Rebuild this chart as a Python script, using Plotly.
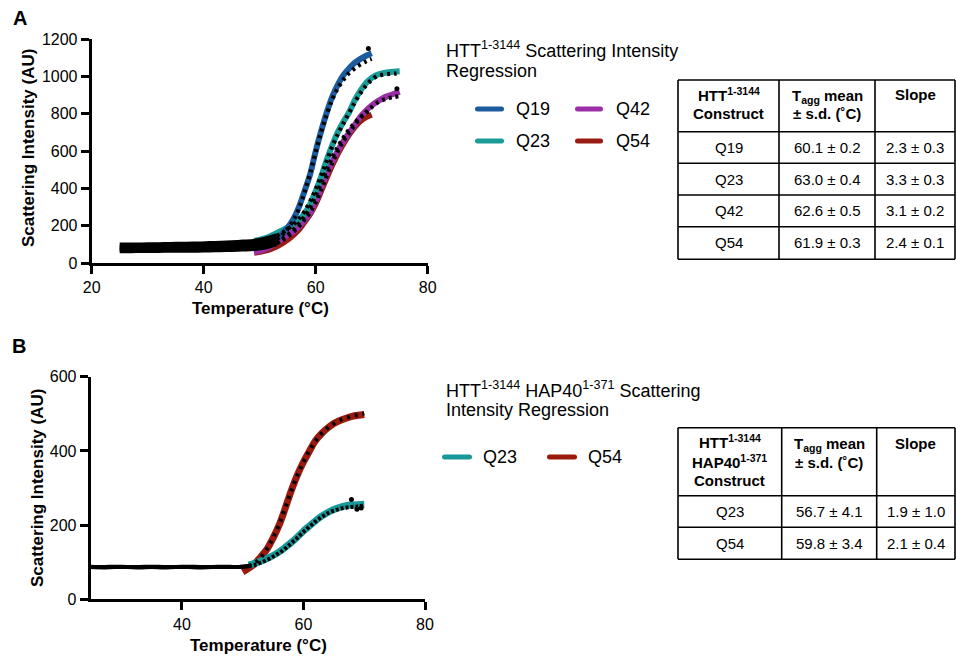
import plotly.graph_objects as go

# the page's body margin is removed by a small post-script, so the figure fills the window
OFF = 0
W, H = 956 - OFF, 658 - OFF
FONT = "Liberation Sans, Arial, Helvetica, sans-serif"

# ---------------- Panel A data ----------------
A_NAMES = ["Q19", "Q23", "Q42", "Q54"]
A_COLORS = ["#1c5b9e", "#1a9c98", "#9c2fa7", "#9a1b12"]

# regression (fit) curves
A_FIT_T_Q19 = [49, 50, 51, 52, 53, 54, 55, 56, 57, 58, 59, 60, 61, 62, 63, 64, 65, 66, 67, 68, 69, 70]
A_FIT_Y_Q19 = [85, 92, 100, 112, 130, 155, 190, 235, 300, 385, 475, 600, 710, 810, 895, 960, 1010, 1045, 1075, 1095, 1112, 1125]
A_FIT_T_Q23 = [49, 50, 51, 52, 53, 54, 55, 56, 57, 58, 59, 60, 61, 62, 63, 64, 65, 66, 67, 68, 69, 70, 71, 72, 73, 74, 75]
A_FIT_Y_Q23 = [118, 125, 133, 145, 160, 175, 190, 208, 232, 265, 315, 385, 465, 555, 635, 705, 760, 810, 875, 925, 965, 993, 1010, 1018, 1023, 1026, 1028]
A_FIT_T_Q42 = [49, 50, 51, 52, 53, 54, 55, 56, 57, 58, 59, 60, 61, 62, 63, 64, 65, 66, 67, 68, 69, 70, 71, 72, 73, 74, 75]
A_FIT_Y_Q42 = [58, 65, 75, 90, 110, 130, 150, 168, 195, 230, 270, 330, 405, 478, 545, 605, 655, 700, 742, 785, 818, 845, 866, 884, 897, 908, 918]
A_FIT_T_Q54 = [49, 50, 51, 52, 53, 54, 55, 56, 57, 58, 59, 60, 61, 62, 63, 64, 65, 66, 67, 68, 69, 70]
A_FIT_Y_Q54 = [55, 60, 66, 75, 88, 105, 125, 150, 180, 220, 262, 318, 388, 460, 528, 590, 643, 690, 730, 762, 782, 795]

# measured points (black dots)
A_DOT_T_Q19 = [25, 27, 29, 31, 33, 35, 37, 39, 41, 43, 45, 47, 49, 51, 53, 54, 55, 56, 57, 58, 59, 60, 61, 62, 63, 64, 65, 66, 67, 68, 69, 70]
A_DOT_Y_Q19 = [84, 84, 85, 85, 86, 86, 87, 88, 89, 90, 92, 95, 100, 108, 125, 150, 183, 228, 292, 380, 480, 595, 705, 800, 880, 940, 985, 1020, 1045, 1065, 1082, 1095]
A_DOT_T_Q23 = [25, 27, 29, 31, 33, 35, 37, 39, 41, 43, 45, 47, 49, 51, 53, 54, 55, 56, 57, 58, 59, 60, 61, 62, 63, 64, 65, 66, 67, 68, 69, 70, 71, 72, 73, 74, 75]
A_DOT_Y_Q23 = [96, 97, 97, 98, 99, 100, 101, 102, 104, 106, 109, 112, 116, 128, 145, 162, 182, 206, 236, 276, 330, 395, 470, 550, 628, 695, 752, 808, 862, 912, 952, 982, 1003, 1010, 1014, 1016, 1020]
A_DOT_T_Q42 = [25, 27, 29, 31, 33, 35, 37, 39, 41, 43, 45, 47, 49, 51, 53, 54, 55, 56, 57, 58, 59, 60, 61, 62, 63, 64, 65, 66, 67, 68, 69, 70, 71, 72, 73, 74, 75]
A_DOT_Y_Q42 = [66, 66, 67, 67, 68, 68, 69, 69, 70, 71, 73, 75, 78, 86, 104, 122, 142, 166, 196, 232, 272, 326, 396, 470, 540, 603, 655, 698, 740, 778, 810, 836, 860, 874, 884, 890, 896]
A_DOT_T_Q54 = [25, 27, 29, 31, 33, 35, 37, 39, 41, 43, 45, 47, 49, 51, 53, 54, 55, 56, 57, 58, 59, 60, 61, 62, 63, 64, 65, 66, 67, 68, 69, 70]
A_DOT_Y_Q54 = [75, 75, 76, 76, 77, 77, 78, 78, 79, 80, 82, 84, 88, 95, 108, 128, 150, 178, 212, 250, 300, 362, 432, 502, 568, 625, 675, 718, 752, 782, 805, 820]
A_OUT_T = [69.4, 74.5]
A_OUT_Y = [1150, 935]
A_SPLIT = 53  # dense baseline band below this temperature

A_X_TICKS = [20, 40, 60, 80]
A_Y_TICKS = [0, 200, 400, 600, 800, 1000, 1200]

# ---------------- Panel B data ----------------
B_NAMES = ["Q23", "Q54"]
B_COLORS = ["#17999a", "#9b1a0e"]

B_FIT_T_Q23 = [51, 52, 53, 54, 55, 56, 57, 58, 59, 60, 61, 62, 63, 64, 65, 66, 67, 68, 69, 70]
B_FIT_Y_Q23 = [92, 97, 103, 110, 118, 128, 140, 153, 168, 184, 198, 212, 224, 234, 242, 248, 252, 254, 255, 256]
B_FIT_T_Q54 = [50, 51, 52, 53, 54, 55, 56, 57, 58, 59, 60, 61, 62, 63, 64, 65, 66, 67, 68, 69, 70]
B_FIT_Y_Q54 = [74, 84, 96, 115, 135, 165, 200, 245, 293, 335, 370, 400, 428, 447, 462, 474, 482, 488, 493, 496, 498]

B_DOT_T_Q23 = [25, 27, 29, 31, 33, 35, 37, 39, 41, 43, 45, 47, 49, 51, 52, 53, 54, 55, 56, 57, 58, 59, 60, 61, 62, 63, 64, 65, 66, 67, 68, 69, 70]
B_DOT_Y_Q23 = [87, 86, 87, 87, 86, 87, 86, 87, 87, 86, 87, 87, 87, 89, 93, 99, 106, 115, 125, 137, 151, 166, 182, 196, 210, 222, 232, 239, 244, 247, 249, 250, 254]
B_DOT_T_Q54 = [25, 27, 29, 31, 33, 35, 37, 39, 41, 43, 45, 47, 49, 51, 52, 53, 54, 55, 56, 57, 58, 59, 60, 61, 62, 63, 64, 65, 66, 67, 68, 69, 70]
B_DOT_Y_Q54 = [88, 87, 88, 87, 87, 88, 87, 87, 88, 87, 87, 88, 87, 90, 98, 113, 136, 166, 202, 246, 292, 334, 370, 401, 427, 447, 462, 474, 483, 489, 494, 497, 501]
B_OUT_T = [67.9, 68.8, 69.5]
B_OUT_Y = [269, 243, 246]
B_SPLIT = 51

B_X_TICKS = [40, 60, 80]
B_Y_TICKS = [0, 200, 400, 600]

# ---------------- Tables ----------------
TA_CONSTRUCT = ["Q19", "Q23", "Q42", "Q54"]
TA_TAGG = ["60.1 ± 0.2", "63.0 ± 0.4", "62.6 ± 0.5", "61.9 ± 0.3"]
TA_SLOPE = ["2.3 ± 0.3", "3.3 ± 0.3", "3.1 ± 0.2", "2.4 ± 0.1"]
TB_CONSTRUCT = ["Q23", "Q54"]
TB_TAGG = ["56.7 ± 4.1", "59.8 ± 3.4"]
TB_SLOPE = ["1.9 ± 1.0", "2.1 ± 0.4"]


def X(p):
    """screen pixel x -> paper fraction"""
    return (p - OFF) / W


def Y(p):
    """screen pixel y -> paper fraction"""
    return 1 - (p - OFF) / H


fig = go.Figure()


def split(ts, ys, cut):
    lo = [(t, y) for t, y in zip(ts, ys) if t <= cut]
    hi = [(t, y) for t, y in zip(ts, ys) if t >= cut]
    return [a for a, _ in lo], [b for _, b in lo], [a for a, _ in hi], [b for _, b in hi]


# Panel A fits (draw order red, magenta, teal, blue)
a_fits = {"Q19": (A_FIT_T_Q19, A_FIT_Y_Q19), "Q23": (A_FIT_T_Q23, A_FIT_Y_Q23),
          "Q42": (A_FIT_T_Q42, A_FIT_Y_Q42), "Q54": (A_FIT_T_Q54, A_FIT_Y_Q54)}
a_col = dict(zip(A_NAMES, A_COLORS))
for name in ["Q54", "Q42", "Q23", "Q19"]:
    t, y = a_fits[name]
    fig.add_trace(go.Scatter(x=t, y=y, mode="lines", name=name, showlegend=False,
                             line=dict(color=a_col[name], width=6, shape="spline"),
                             xaxis="x", yaxis="y"))

a_dots = [(A_DOT_T_Q19, A_DOT_Y_Q19), (A_DOT_T_Q23, A_DOT_Y_Q23),
          (A_DOT_T_Q42, A_DOT_Y_Q42), (A_DOT_T_Q54, A_DOT_Y_Q54)]
for t, y in a_dots:
    t0, y0, t1, y1 = split(t, y, A_SPLIT)
    fig.add_trace(go.Scatter(x=t0, y=y0, mode="lines", showlegend=False,
                             line=dict(color="black", width=5, shape="spline"),
                             xaxis="x", yaxis="y"))
    fig.add_trace(go.Scatter(x=t1, y=y1, mode="lines", showlegend=False,
                             line=dict(color="black", width=4.2, dash="3px,4px", shape="spline"),
                             xaxis="x", yaxis="y"))
fig.add_trace(go.Scatter(x=A_OUT_T, y=A_OUT_Y, mode="markers", showlegend=False,
                         marker=dict(color="black", size=5), xaxis="x", yaxis="y"))

# Panel B
b_fits = {"Q23": (B_FIT_T_Q23, B_FIT_Y_Q23), "Q54": (B_FIT_T_Q54, B_FIT_Y_Q54)}
b_col = dict(zip(B_NAMES, B_COLORS))
for name in ["Q54", "Q23"]:
    t, y = b_fits[name]
    fig.add_trace(go.Scatter(x=t, y=y, mode="lines", name=name, showlegend=False,
                             line=dict(color=b_col[name], width=7, shape="spline"),
                             xaxis="x2", yaxis="y2"))
for (t, y), dash in [((B_DOT_T_Q23, B_DOT_Y_Q23), "3px,2px"), ((B_DOT_T_Q54, B_DOT_Y_Q54), "3px,5px")]:
    t0, y0, t1, y1 = split(t, y, B_SPLIT)
    fig.add_trace(go.Scatter(x=t0, y=y0, mode="lines", showlegend=False,
                             line=dict(color="black", width=4, shape="spline"),
                             xaxis="x2", yaxis="y2"))
    fig.add_trace(go.Scatter(x=t1, y=y1, mode="lines", showlegend=False,
                             line=dict(color="black", width=4, dash=dash, shape="spline"),
                             xaxis="x2", yaxis="y2"))
fig.add_trace(go.Scatter(x=B_OUT_T, y=B_OUT_Y, mode="markers", showlegend=False,
                         marker=dict(color="black", size=5), xaxis="x2", yaxis="y2"))

axis_common = dict(showgrid=False, zeroline=False, showline=True, linecolor="black",
                   linewidth=3, ticks="outside", ticklen=8, tickwidth=3, tickcolor="black",
                   tickfont=dict(family=FONT, size=16, color="black"), fixedrange=True,
                   automargin=False)

fig.update_layout(
    width=W, height=H, margin=dict(l=0, r=0, t=0, b=0, pad=0, autoexpand=False),
    paper_bgcolor="white", plot_bgcolor="white", showlegend=False,
    font=dict(family=FONT, color="black"),
    xaxis=dict(domain=[X(91.7), X(427.7)], range=[20, 80], tickvals=A_X_TICKS, anchor="y", **axis_common),
    yaxis=dict(domain=[Y(263), Y(39.3)], range=[0, 1200], tickvals=A_Y_TICKS, anchor="x", **axis_common),
    xaxis2=dict(domain=[X(90.7), X(425)], range=[25, 80], tickvals=B_X_TICKS, anchor="y2", **axis_common),
    yaxis2=dict(domain=[Y(599.3), Y(376.7)], range=[0, 600], tickvals=B_Y_TICKS, anchor="x2", **axis_common),
)

ann = []
shapes = []


def text(t, x, y, size=15, xanchor="center", yanchor="middle", angle=0):
    ann.append(dict(text=t, x=X(x), y=Y(y), xref="paper", yref="paper", showarrow=False,
                    xanchor=xanchor, yanchor=yanchor, textangle=angle, borderpad=0,
                    font=dict(family=FONT, size=size, color="black")))


def hline(x0, x1, y, w=1.6):
    shapes.append(dict(type="line", xref="paper", yref="paper", x0=X(x0), x1=X(x1), y0=Y(y), y1=Y(y),
                       line=dict(color="black", width=w)))


def vline(x, y0, y1, w=1.6):
    shapes.append(dict(type="line", xref="paper", yref="paper", x0=X(x), x1=X(x), y0=Y(y0), y1=Y(y1),
                       line=dict(color="black", width=w)))


def swatch(x0, x1, y, color, r=2.5):
    p = (f"M {X(x0 + r)},{Y(y - r)} L {X(x1 - r)},{Y(y - r)} Q {X(x1)},{Y(y - r)} {X(x1)},{Y(y)} "
         f"Q {X(x1)},{Y(y + r)} {X(x1 - r)},{Y(y + r)} L {X(x0 + r)},{Y(y + r)} "
         f"Q {X(x0)},{Y(y + r)} {X(x0)},{Y(y)} Q {X(x0)},{Y(y - r)} {X(x0 + r)},{Y(y - r)} Z")
    shapes.append(dict(type="path", xref="paper", yref="paper", path=p, fillcolor=color,
                       line=dict(width=0)))


# panel letters & axis titles
text("<b>A</b>", 20, 18, size=20)
text("<b>B</b>", 19, 346, size=20)
text("<b>Scattering Intensity (AU)</b>", 29, 148, size=17, angle=-90)
text("<b>Temperature (°C)</b>", 260, 308, size=17)
text("<b>Scattering Intensity (AU)</b>", 37, 488, size=17, angle=-90)
text("<b>Temperature (°C)</b>", 258, 645, size=17)

# legend A
text("HTT<sup>1-3144</sup> Scattering Intensity", 445, 50, size=18, xanchor="left")
text("Regression", 445, 71, size=18, xanchor="left")
a_leg_pos = {"Q19": (475, 504, 515, 109), "Q42": (575, 603, 615, 109),
             "Q23": (475, 504, 515, 141), "Q54": (575, 603, 615, 141)}
for name, color in zip(A_NAMES, A_COLORS):
    sx0, sx1, tx, ty = a_leg_pos[name]
    swatch(sx0, sx1, ty, color)
    text(name, tx, ty, size=18, xanchor="left")

# legend B
text("HTT<sup>1-3144</sup> HAP40<sup>1-371</sup> Scattering", 445, 389, size=18, xanchor="left")
text("Intensity Regression", 445, 410, size=18, xanchor="left")
b_leg_pos = {"Q23": (442, 472, 482, 457), "Q54": (547, 577, 587, 457)}
for name, color in zip(B_NAMES, B_COLORS):
    sx0, sx1, tx, ty = b_leg_pos[name]
    swatch(sx0, sx1, ty, color)
    text(name, tx, ty, size=18, xanchor="left")

# table A
ta_cols = [678, 779, 875, 955]
ta_rows = [80, 131.7, 163.3, 195, 226.7, 259.3]
for y in ta_rows:
    hline(ta_cols[0], ta_cols[-1], y)
for x in ta_cols:
    vline(x, ta_rows[0], ta_rows[-1])
cA = [(ta_cols[i] + ta_cols[i + 1]) / 2 for i in range(3)]
text("<b>HTT<sup>1-3144</sup></b>", cA[0], 95)
text("<b>Construct</b>", cA[0], 113.5)
text("<b>T<sub>agg</sub> mean</b>", cA[1], 96)
text("<b>± s.d. (˚C)</b>", cA[1], 113.5)
text("<b>Slope</b>", cA[2], 95)
for i, (c, tg, sl) in enumerate(zip(TA_CONSTRUCT, TA_TAGG, TA_SLOPE)):
    yc = (ta_rows[i + 1] + ta_rows[i + 2]) / 2
    text(c, cA[0], yc)
    text(tg, cA[1], yc)
    text(sl, cA[2], yc)

# table B
tb_cols = [678, 781.7, 876.7, 955]
tb_rows = [427.7, 495.7, 527.3, 559.3]
for y in tb_rows:
    hline(tb_cols[0], tb_cols[-1], y)
for x in tb_cols:
    vline(x, tb_rows[0], tb_rows[-1])
cB = [(tb_cols[i] + tb_cols[i + 1]) / 2 for i in range(3)]
text("<b>HTT<sup>1-3144</sup></b>", cB[0], 442)
text("<b>HAP40<sup>1-371</sup></b>", cB[0], 461.5)
text("<b>Construct</b>", cB[0], 480)
text("<b>T<sub>agg</sub> mean</b>", cB[1], 444)
text("<b>± s.d. (˚C)</b>", cB[1], 462)
text("<b>Slope</b>", cB[2], 443)
for i, (c, tg, sl) in enumerate(zip(TB_CONSTRUCT, TB_TAGG, TB_SLOPE)):
    yc = (tb_rows[i + 1] + tb_rows[i + 2]) / 2
    text(c, cB[0], yc)
    text(tg, cB[1], yc)
    text(sl, cB[2], yc)

fig.update_layout(annotations=ann, shapes=shapes)
fig.write_html("out.html", config={"displayModeBar": False, "staticPlot": True},
               post_script="document.body.style.margin='0';document.body.style.overflow='hidden';")
